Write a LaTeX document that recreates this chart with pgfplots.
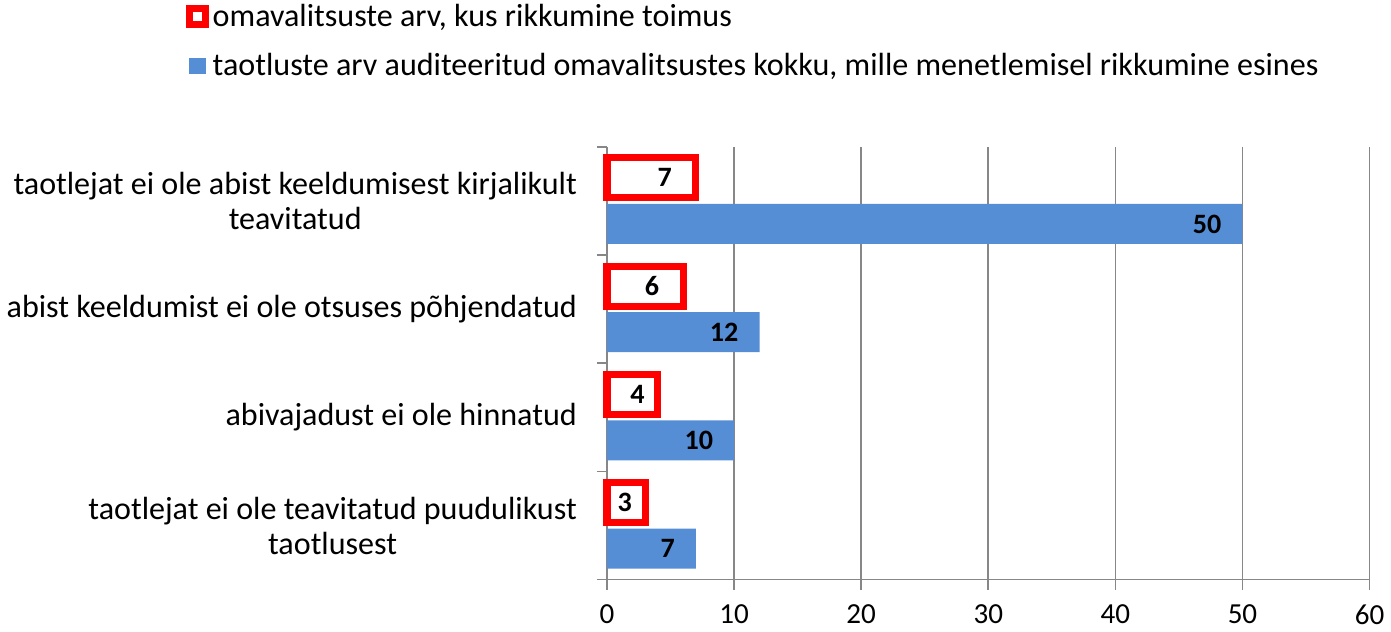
\documentclass[border=0pt]{standalone}
\usepackage{fontspec}
\setmainfont{Carlito}
\usepackage{pgfplots}
\pgfplotsset{compat=1.18}
\definecolor{barblue}{HTML}{558ED5}
\definecolor{axgray}{HTML}{878787}
\begin{document}
\begin{tikzpicture}
\begin{axis}[
  xbar,
  scale only axis,
  width=380.5pt,
  height=216pt,
  xmin=0, xmax=60,
  xtick={0,10,...,60},
  ymin=-0.5, ymax=3.5,
  ytick={0,1,2,3},
  yticklabels={{taotlejat ei ole teavitatud puudulikust\\taotlusest},
               {abivajadust ei ole hinnatud},
               {abist keeldumist ei ole otsuses põhjendatud},
               {taotlejat ei ole abist keeldumisest kirjalikult\\teavitatud}},
  minor ytick={-0.5,0.5,1.5,2.5,3.5},
  every major y tick/.style={draw=none},
  tick align=outside,
  major tick length=5pt,
  minor tick length=5pt,
  tick style={axgray, thick},
  axis x line*=bottom,
  axis y line*=left,
  axis line style={axgray, thick, -},
  xmajorgrids=true,
  grid style={axgray, thick},
  yticklabel style={align=center, font=\fontsize{16}{17.5}\selectfont, xshift=-6.5pt},
  xticklabel style={font=\fontsize{14.5}{16}\selectfont, yshift=-4pt},
  /pgf/number format/assume math mode=true,
  bar width=20pt,
  point meta=x,
  visualization depends on={rawx \as \rx},
  nodes near coords,
  every node near coord/.append style={anchor=east, text=black,
    xshift={(\rx>5 ? -7 : -1.5)*1pt},
    font=\fontsize{14}{14}\bfseries\selectfont},
  legend style={at={(rel axis cs:-0.553,1.34)}, anchor=north west, draw=none,
    font=\fontsize{16}{18}\selectfont, row sep=8pt, cells={anchor=west},
    inner sep=0pt},
  clip=false,
]
\addplot[bar shift=11.5pt, draw=red, fill=white, line width=3.5pt,
  legend image code/.code={\draw[red, fill=white, line width=3.5pt] (0pt,-4pt) rectangle (8pt,4pt);}]
  coordinates {(7,3) (6,2) (4,1) (3,0)};
\addplot[bar shift=-11.5pt, draw=none, fill=barblue,
  legend image code/.code={\fill[barblue] (0pt,-4pt) rectangle (8.5pt,4pt);}]
  coordinates {(50,3) (12,2) (10,1) (7,0)};
\legend{{omavalitsuste arv, kus rikkumine toimus},
  {taotluste arv auditeeritud omavalitsustes kokku, mille menetlemisel rikkumine esines}}
\end{axis}
\end{tikzpicture}
\end{document}
